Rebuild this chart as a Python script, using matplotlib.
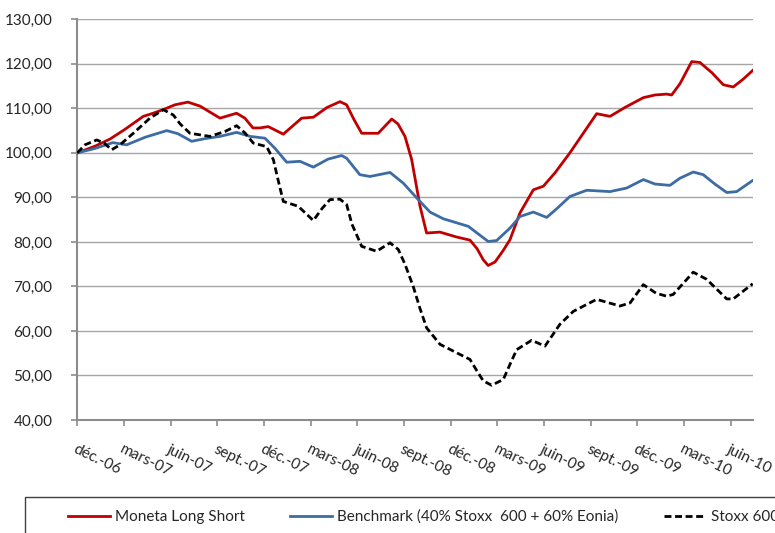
import matplotlib
matplotlib.use('Agg')
import matplotlib.pyplot as plt
from matplotlib.patches import Rectangle

plt.rcParams['font.family'] = ['Lato', 'DejaVu Sans']

# months since dec. 2006
moneta_x = [0, 1.14, 2.10, 3.07, 4.24, 4.87, 5.51, 6.28, 7.11, 7.89, 9.17, 10.24, 10.77, 11.29,
            11.74, 12.27, 13.24, 14.42, 15.17, 16.05, 16.88, 17.31, 17.78, 18.28, 19.34, 20.21,
            20.61, 21.06, 21.49, 22.03, 22.45, 23.31, 24.38, 25.24, 25.69, 26.09, 26.41, 26.85,
            27.36, 27.81, 28.45, 29.31, 29.95, 30.70, 31.66, 32.50, 33.38, 34.24, 35.20, 36.38,
            37.13, 37.88, 38.20, 38.73, 39.49, 40.02, 40.79, 41.52, 42.16, 42.78, 43.41]
moneta = [100, 101.5, 103.1, 105.3, 108.2, 108.9, 109.7, 110.8, 111.4, 110.5, 107.8, 108.9, 107.8, 105.6,
          105.6, 105.9, 104.2, 107.8, 108.0, 110.2, 111.5, 110.8, 107.5, 104.4, 104.4, 107.6,
          106.5, 103.7, 98.5, 88.0, 82.0, 82.2, 81.1, 80.4, 78.5, 76.0, 74.7, 75.5,
          78.0, 80.5, 86.5, 91.7, 92.5, 95.5, 100.0, 104.3, 108.8, 108.2, 110.2, 112.4,
          113.0, 113.2, 113.0, 115.5, 120.5, 120.3, 118.0, 115.3, 114.8, 116.5, 118.5]

bench_x = [0, 1.14, 2.29, 3.17, 4.35, 5.75, 6.47, 7.35, 8.21, 9.17, 10.24, 11.10, 12.06, 12.71,
           13.46, 14.31, 15.17, 16.12, 16.99, 17.31, 18.16, 18.81, 20.10, 20.95, 21.81, 22.67,
           23.52, 25.13, 25.88, 26.41, 26.95, 27.81, 28.45, 29.31, 30.17, 30.83, 31.66, 32.74,
           34.24, 35.31, 36.38, 37.13, 38.09, 38.73, 39.59, 40.23, 40.98, 41.74, 42.38, 43.41]
bench = [100, 101.0, 102.3, 101.8, 103.5, 105.0, 104.3, 102.6, 103.2, 103.7, 104.6, 103.7, 103.3, 101.0,
         97.9, 98.1, 96.8, 98.6, 99.4, 98.8, 95.1, 94.7, 95.6, 93.2, 89.9, 86.7,
         85.2, 83.5, 81.5, 80.1, 80.3, 83.1, 85.7, 86.7, 85.5, 87.5, 90.2, 91.6,
         91.3, 92.1, 94.0, 93.0, 92.7, 94.3, 95.7, 95.1, 93.0, 91.1, 91.3, 93.8]

stoxx_x = [0, 0.49, 1.25, 1.72, 2.21, 2.74, 3.60, 4.67, 5.53, 6.17, 6.61, 7.24, 8.53, 9.49, 10.24,
           10.77, 11.31, 12.17, 12.60, 12.90, 13.24, 14.20, 15.17, 15.73, 16.24, 16.88, 17.31,
           17.65, 18.28, 19.24, 20.10, 20.63, 21.06, 21.59, 22.03, 22.45, 23.31, 24.38, 25.24,
           25.69, 26.09, 26.63, 27.38, 27.81, 28.24, 29.20, 30.06, 31.02, 31.88, 33.38, 34.88,
           35.53, 36.38, 37.19, 37.88, 38.30, 39.59, 40.45, 41.74, 42.16, 43.41]
stoxx = [100, 101.8, 102.9, 102.2, 100.7, 101.8, 104.4, 107.8, 109.7, 108.5, 106.5, 104.4, 103.7, 104.8, 106.1,
         104.5, 102.2, 101.4, 98.5, 94.0, 89.1, 88.0, 84.8, 87.5, 89.5, 89.6, 88.4,
         84.0, 79.0, 77.9, 79.8, 78.3, 75.0, 70.0, 65.0, 60.7, 57.0, 55.1, 53.6,
         51.0, 48.8, 47.8, 49.1, 52.5, 55.8, 57.9, 56.6, 61.5, 64.4, 67.1, 65.6,
         66.3, 70.4, 68.5, 67.8, 68.2, 73.2, 71.6, 67.2, 67.2, 70.6]

tick_pos = [0, 3, 6, 9, 12, 15, 18, 21, 24, 27, 30, 33, 36, 39, 42]
tick_labels = ['déc.-06', 'mars-07', 'juin-07', 'sept.-07', 'déc.-07', 'mars-08', 'juin-08',
               'sept.-08', 'déc.-08', 'mars-09', 'juin-09', 'sept.-09', 'déc.-09', 'mars-10', 'juin-10']
y_ticks = [40, 50, 60, 70, 80, 90, 100, 110, 120, 130]

fig = plt.figure(figsize=(7.75, 5.33), dpi=100)
ax = fig.add_axes([77.3/775, 1-420/533, (752.7-77.3)/775, (420-19.3)/533])

grey = '#8c8c8c'
for v in y_ticks[1:]:
    ax.axhline(v, color='#a6a6a6', lw=1.0, zorder=1)

l1, = ax.plot(moneta_x, moneta, color='#c00000', lw=2.0, zorder=3, solid_joinstyle='round')
l2, = ax.plot(bench_x, bench, color='#3c6ca3', lw=2.0, zorder=3, solid_joinstyle='round')
l3, = ax.plot(stoxx_x, stoxx, color='black', lw=2.0, ls=(0, (2.5, 1.3)), zorder=3)

ax.set_xlim(0, 43.41)
ax.set_ylim(40, 130)
ax.set_yticks(y_ticks)
ax.set_yticklabels([('%.2f' % v).replace('.', ',') for v in y_ticks], color='#262626', fontsize=11)
ax.set_xticks(tick_pos)
ax.set_xticklabels(tick_labels, rotation=-26, ha='left', va='top', rotation_mode='anchor',
                   color='#262626', fontsize=11)
ax.tick_params(axis='y', length=4, width=1.2, color=grey, pad=14)
ax.tick_params(axis='x', length=4, width=1.2, color=grey, pad=12)
for s in ['top', 'right']:
    ax.spines[s].set_visible(False)
for s in ['left', 'bottom']:
    ax.spines[s].set_color(grey)
    ax.spines[s].set_linewidth(1.5)

fig.patches.append(Rectangle((25/775, -0.05), 1, 0.05 + 1-497/533, transform=fig.transFigure,
                             fill=False, edgecolor='#404040', lw=1.0))
fig.legend([l1, l2, l3], ['Moneta Long Short', 'Benchmark (40% Stoxx  600 + 60% Eonia)', 'Stoxx 600'],
           loc='center left', bbox_to_anchor=(68/775, 1-517/533), ncol=3, frameon=False,
           borderpad=0, borderaxespad=0, handlelength=2.75, handletextpad=0.33, columnspacing=2.95,
           fontsize=11, labelcolor='#262626')

fig.savefig('out.png', dpi=100)
